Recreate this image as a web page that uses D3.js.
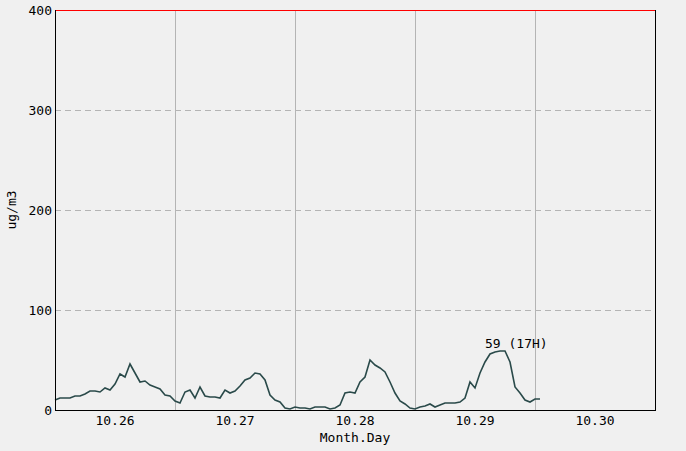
<!DOCTYPE html>
<html>
<head>
<meta charset="utf-8">
<script src="https://cdn.jsdelivr.net/npm/d3@7"></script>
<style>
	body { margin: 0; background: #f0f0f0; }
	svg { display: block; }
	text { font-family: "DejaVu Sans Mono", monospace; font-size: 13px; fill: #000; }
</style>
</head>
<body>
<div id="chart"></div>
<script>
//	Hourly values, starting at 10.26 00H
var days = ["10.26", "10.27", "10.28", "10.29", "10.30"];
var yTicks = [0, 100, 200, 300, 400];
var values = [
	10, 12, 12, 12, 14, 14, 16, 19, 19, 18, 22, 20, 26, 36, 33, 46, 37, 28, 29, 25, 23, 21, 15, 14,
	9, 7, 18, 20, 12, 23, 14, 13, 13, 12, 20, 17, 19, 24, 30, 32, 37, 36, 30, 15, 10, 8, 2, 1,
	3, 2, 2, 1, 3, 3, 3, 1, 2, 5, 17, 18, 17, 28, 33, 50, 45, 42, 38, 28, 17, 9, 6, 2,
	1, 3, 4, 6, 3, 5, 7, 7, 7, 8, 12, 28, 22, 37, 48, 56, 58, 59, 59, 48, 23, 17, 10, 8,
	11, 11
];

draw();

function draw() {
	var W = 686, H = 451,
		left = 55, right = 655, top = 10, bottom = 410;

	var svg = d3.select("#chart")
		.append("svg")
		.attr("width", W)
		.attr("height", H);

	svg.append("rect")
		.attr("width", W)
		.attr("height", H)
		.attr("fill", "#f0f0f0");

	var x = d3.scaleLinear().domain([0, days.length * 24]).range([left, right]);
	var y = d3.scaleLinear().domain([0, 400]).range([bottom, top]);

	//	Horizontal dashed grid
	svg.selectAll(".hgrid")
		.data(yTicks.filter(function(d) { return d > 0 && d < 400; }))
		.enter().append("line")
		.attr("x1", left)
		.attr("x2", right)
		.attr("y1", function(d) { return y(d) + 0.5; })
		.attr("y2", function(d) { return y(d) + 0.5; })
		.attr("stroke", "#b4b4b4")
		.attr("stroke-dasharray", "6,4");

	//	Vertical day separators
	svg.selectAll(".vgrid")
		.data(d3.range(1, days.length))
		.enter().append("line")
		.attr("x1", function(d) { return x(d * 24) + 0.5; })
		.attr("x2", function(d) { return x(d * 24) + 0.5; })
		.attr("y1", top)
		.attr("y2", bottom)
		.attr("stroke", "#b4b4b4");

	//	Data line
	var line = d3.line()
		.x(function(d, i) { return x(i); })
		.y(function(d) { return y(d); });

	svg.append("path")
		.datum(values)
		.attr("d", line)
		.attr("fill", "none")
		.attr("stroke", "#2a4a4a")
		.attr("stroke-width", 1.6);

	//	Frame
	svg.append("line")
		.attr("x1", left).attr("x2", right)
		.attr("y1", top + 0.5).attr("y2", top + 0.5)
		.attr("stroke", "#ff0000");
	svg.append("line")
		.attr("x1", left + 0.5).attr("x2", left + 0.5)
		.attr("y1", top).attr("y2", bottom + 1)
		.attr("stroke", "#000");
	svg.append("line")
		.attr("x1", right + 0.5).attr("x2", right + 0.5)
		.attr("y1", top).attr("y2", bottom + 1)
		.attr("stroke", "#000");
	svg.append("line")
		.attr("x1", left).attr("x2", right + 1)
		.attr("y1", bottom + 0.5).attr("y2", bottom + 0.5)
		.attr("stroke", "#000");

	//	Y tick labels
	svg.selectAll(".ylab")
		.data(yTicks)
		.enter().append("text")
		.attr("x", left - 3)
		.attr("y", function(d) { return y(d); })
		.attr("dy", "0.35em")
		.attr("text-anchor", "end")
		.text(function(d) { return d; });

	//	X day labels
	svg.selectAll(".xlab")
		.data(days)
		.enter().append("text")
		.attr("x", function(d, i) { return x(i * 24 + 12); })
		.attr("y", 425)
		.attr("text-anchor", "middle")
		.text(function(d) { return d; });

	svg.append("text")
		.attr("x", (left + right) / 2)
		.attr("y", 442)
		.attr("text-anchor", "middle")
		.text("Month.Day");

	svg.append("text")
		.attr("transform", "translate(16," + ((top + bottom) / 2) + ") rotate(-90)")
		.attr("text-anchor", "middle")
		.text("ug/m3");

	//	Max annotation
	var maxV = d3.max(values),
		maxI = values.indexOf(maxV);
	svg.append("text")
		.attr("x", x(maxI) - 15)
		.attr("y", y(maxV) - 3)
		.text(maxV + " (" + (maxI % 24) + "H)");
}
</script>
</body>
</html>
